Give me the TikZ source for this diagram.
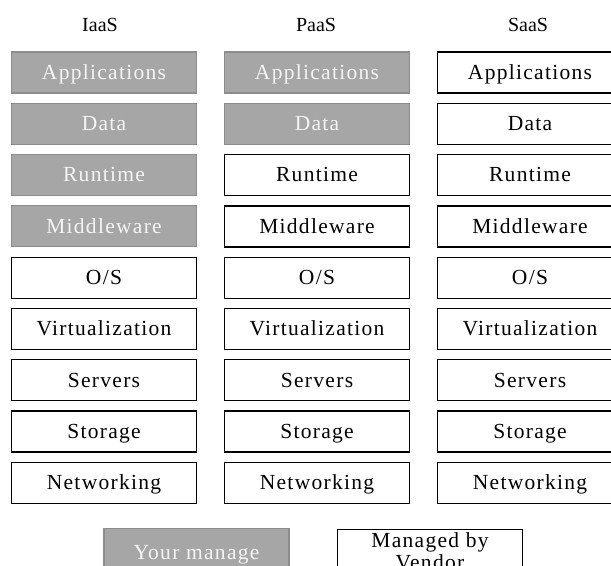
\documentclass[tikz,border=0pt]{standalone}
\usepackage{fontspec}
\setmainfont{Liberation Serif}
\newfontfamily\boxfont{Liberation Serif}[LetterSpace=6]
\definecolor{ownfill}{HTML}{A6A6A6}
\definecolor{ownline}{HTML}{8C8C8C}
\definecolor{owntext}{HTML}{F4F4F4}
\tikzset{
  layer/.style={rectangle, minimum width=185bp, minimum height=41bp, inner sep=0pt,
    text height=13.6bp, text depth=0bp, font=\boxfont\fontsize{21.5bp}{25bp}\selectfont},
  own/.style={layer, fill=ownfill, draw=ownline, line width=1.1bp, text=owntext},
  vendor/.style={layer, fill=white, draw=black, line width=1.3bp, text=black},
  coltitle/.style={inner sep=0pt, anchor=base, font=\fontsize{20bp}{24bp}\selectfont},
}
\begin{document}
\begin{tikzpicture}[x=1bp, y=-1bp]
\useasboundingbox (0,0) rectangle (611,566);
\clip (0,0) rectangle (611,566);

% column headings
\node[coltitle] (tI) at (100,32) {IaaS};
\node[coltitle] (tP) at (316,32) {PaaS};
\node[coltitle] (tS) at (528,32) {SaaS};

% layers: top to bottom
\foreach \lab [count=\i from 0] in {Applications,Data,Runtime,Middleware,O/S,Virtualization,Servers,Storage,Networking}{
  \pgfmathsetmacro{\yy}{72.5+51.3*\i}
  \ifnum\i<4 \def\stI{own}\else\def\stI{vendor}\fi
  \ifnum\i<2 \def\stP{own}\else\def\stP{vendor}\fi
  \node[\stI] (i\i) at (104,\yy) {\lab};
  \node[\stP] (p\i) at (317,\yy) {\lab};
  \node[vendor] (s\i) at (530,\yy) {\lab};
}

% legend
\node[own, minimum height=47bp, anchor=north] (lgown) at (196.5,528.3) {Your manage};
\node[vendor, anchor=north, align=center, text height=, text depth=, inner ysep=3bp,
      font=\boxfont\fontsize{21.5bp}{22bp}\selectfont] (lgvendor) at (430,529) {Managed by\\Vendor};
\end{tikzpicture}
\end{document}
